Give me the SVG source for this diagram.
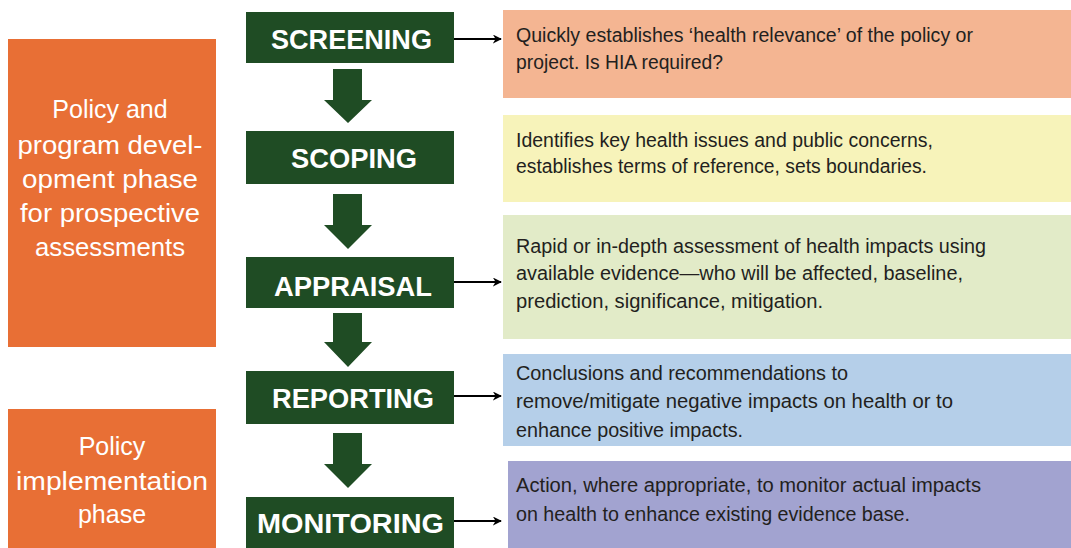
<svg xmlns="http://www.w3.org/2000/svg" width="1071" height="548" viewBox="0 0 1071 548">
<defs>
<style>
.phase{fill:#E86F35}
.phase-t{font-family:"Liberation Sans",Arial,sans-serif;font-size:25px;fill:#fff;text-anchor:middle}
.step{fill:#1F4C24}
.step-t{font-family:"Liberation Sans",Arial,sans-serif;font-size:27px;font-weight:bold;fill:#fff}
.desc-t{font-family:"Liberation Sans",Arial,sans-serif;font-size:19.5px;fill:#231F20}
.down{fill:#1F4C24}
.conn{stroke:#000;stroke-width:2;fill:none}
</style>
<marker id="ah" viewBox="0 0 10 10" refX="9" refY="5" markerWidth="9" markerHeight="9" markerUnits="userSpaceOnUse" orient="auto">
<path d="M0,0 L10,5 L0,10 L3,5 z" fill="#000"/>
</marker>
</defs>
<rect width="1071" height="548" fill="#fff"/>

<g id="phase-development">
<rect class="phase" x="8" y="39" width="208" height="308"/>
<text class="phase-t" x="110" y="118">Policy and</text>
<text class="phase-t" x="110" y="154" textLength="185" lengthAdjust="spacingAndGlyphs">program devel-</text>
<text class="phase-t" x="110" y="188" textLength="176" lengthAdjust="spacingAndGlyphs">opment phase</text>
<text class="phase-t" x="110" y="222" textLength="180" lengthAdjust="spacingAndGlyphs">for prospective</text>
<text class="phase-t" x="110" y="256" textLength="150" lengthAdjust="spacingAndGlyphs">assessments</text>
</g>

<g id="phase-implementation">
<rect class="phase" x="8" y="409" width="208" height="139"/>
<text class="phase-t" x="112" y="455">Policy</text>
<text class="phase-t" x="112" y="490" textLength="192" lengthAdjust="spacingAndGlyphs">implementation</text>
<text class="phase-t" x="112" y="523">phase</text>
</g>

<g id="screening">
<rect class="step" x="246" y="12" width="208" height="51"/>
<text class="step-t" x="271" y="49" textLength="161" lengthAdjust="spacingAndGlyphs">SCREENING</text>
</g>
<g id="scoping">
<rect class="step" x="246" y="131" width="208" height="53"/>
<text class="step-t" x="291" y="168" textLength="126" lengthAdjust="spacingAndGlyphs">SCOPING</text>
</g>
<g id="appraisal">
<rect class="step" x="246" y="257" width="208" height="51"/>
<text class="step-t" x="274" y="296" textLength="158" lengthAdjust="spacingAndGlyphs">APPRAISAL</text>
</g>
<g id="reporting">
<rect class="step" x="246" y="371" width="208" height="53"/>
<text class="step-t" x="272" y="408" textLength="162" lengthAdjust="spacingAndGlyphs">REPORTING</text>
</g>
<g id="monitoring">
<rect class="step" x="246" y="497" width="208" height="55"/>
<text class="step-t" x="257" y="533" textLength="187" lengthAdjust="spacingAndGlyphs">MONITORING</text>
</g>

<g id="desc-screening">
<rect x="503" y="10" width="568" height="88" fill="#F4B592"/>
<text class="desc-t" x="516" y="42" textLength="457" lengthAdjust="spacingAndGlyphs">Quickly establishes ‘health relevance’ of the policy or</text>
<text class="desc-t" x="516" y="69" textLength="207" lengthAdjust="spacingAndGlyphs">project. Is HIA required?</text>
</g>
<g id="desc-scoping">
<rect x="503" y="115" width="568" height="87" fill="#F7F3BA"/>
<text class="desc-t" x="516" y="147" textLength="417" lengthAdjust="spacingAndGlyphs">Identifies key health issues and public concerns,</text>
<text class="desc-t" x="516" y="173" textLength="411" lengthAdjust="spacingAndGlyphs">establishes terms of reference, sets boundaries.</text>
</g>
<g id="desc-appraisal">
<rect x="503" y="215" width="568" height="124" fill="#E2EBC8"/>
<text class="desc-t" x="516" y="253" textLength="470" lengthAdjust="spacingAndGlyphs">Rapid or in-depth assessment of health impacts using</text>
<text class="desc-t" x="516" y="280" textLength="447" lengthAdjust="spacingAndGlyphs">available evidence—who will be affected, baseline,</text>
<text class="desc-t" x="516" y="308" textLength="307" lengthAdjust="spacingAndGlyphs">prediction, significance, mitigation.</text>
</g>
<g id="desc-reporting">
<rect x="503" y="354" width="568" height="92" fill="#B5CFE9"/>
<text class="desc-t" x="516" y="380" textLength="332" lengthAdjust="spacingAndGlyphs">Conclusions and recommendations to</text>
<text class="desc-t" x="516" y="408" textLength="437" lengthAdjust="spacingAndGlyphs">remove/mitigate negative impacts on health or to</text>
<text class="desc-t" x="516" y="437" textLength="227" lengthAdjust="spacingAndGlyphs">enhance positive impacts.</text>
</g>
<g id="desc-monitoring">
<rect x="508" y="461" width="563" height="87" fill="#A2A3D0"/>
<text class="desc-t" x="516" y="492" textLength="465" lengthAdjust="spacingAndGlyphs">Action, where appropriate, to monitor actual impacts</text>
<text class="desc-t" x="516" y="521" textLength="394" lengthAdjust="spacingAndGlyphs">on health to enhance existing evidence base.</text>
</g>

<g id="connectors">
<polygon class="down" points="333,69 362,69 362,100 372,100 348,123 324,100 333,100"/>
<polygon class="down" points="333,194 362,194 362,225 372,225 348,249 324,225 333,225"/>
<polygon class="down" points="333,313 362,313 362,342 372,342 348,367 324,342 333,342"/>
<polygon class="down" points="333,433 362,433 362,464 372,464 348,488 324,464 333,464"/>
<line class="conn" x1="454" y1="39" x2="501" y2="39" marker-end="url(#ah)"/>
<line class="conn" x1="454" y1="282" x2="501" y2="282" marker-end="url(#ah)"/>
<line class="conn" x1="454" y1="396" x2="501" y2="396" marker-end="url(#ah)"/>
<line class="conn" x1="454" y1="521" x2="501" y2="521" marker-end="url(#ah)"/>
</g>
</svg>
